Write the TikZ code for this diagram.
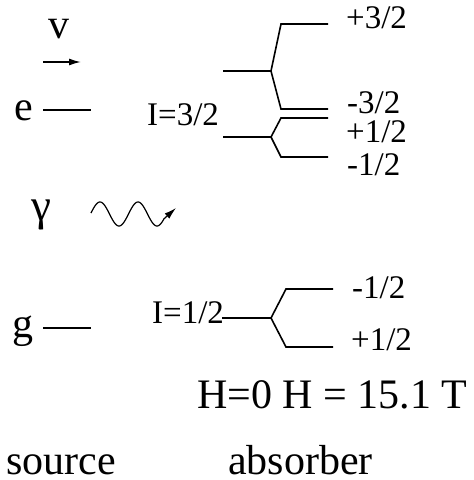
\documentclass[tikz,border=0pt]{standalone}
\usepackage{fontspec}
\setmainfont{Liberation Serif}
\usetikzlibrary{arrows.meta}
\tikzset{
  big/.style={font=\fontsize{42}{48}\selectfont, inner sep=0pt, anchor=base west, text depth=0pt},
  small/.style={font=\fontsize{33}{38}\selectfont, inner sep=0pt, anchor=base west, text height=22pt, text depth=0pt},
  lvl/.style={line width=1.6pt, line join=miter},
  tip/.style={-{Latex[length=12pt,width=7pt]}}
}
\begin{document}
\begin{tikzpicture}[x=1pt,y=-1pt]
\useasboundingbox (0,0) rectangle (474,480);
% source side
\node[big, anchor=base] (v) at (59,38) {v};
\coordinate (va) at (43,62);
\coordinate (vb) at (81,62);
\draw[lvl, tip, line width=1.5pt] (va) -- (vb);
\node[big] (e) at (14,120) {e};
\coordinate (ea) at (43,110);
\coordinate (eb) at (91,110);
\draw[lvl] (ea) -- (eb);
\node[big, font=\fontsize{45}{50}\selectfont] (gam) at (31,220) {γ};
\coordinate (wtip) at (176,208);
\draw[line width=1.2pt, tip] plot[domain=91:164, samples=90, smooth] (\x, {214-12*cos(9.4737*(\x-100))}) -- (wtip);
\node[big] (g) at (12,337) {g};
\coordinate (ga) at (43,328);
\coordinate (gb) at (91,328);
\draw[lvl] (ga) -- (gb);
% absorber I=3/2
\node[small] (i32) at (147,125) {I=3/2};
\coordinate (u0) at (223,71);
\coordinate (u1) at (271,71);
\coordinate (u2) at (281,24);
\coordinate (u3) at (328,24);
\coordinate (u4) at (281,109);
\coordinate (u5) at (328,109);
\draw[lvl] (u0) -- (u1) -- (u2) -- (u3);
\draw[lvl] (u1) -- (u4) -- (u5);
\coordinate (l0) at (223,137);
\coordinate (l1) at (271,137);
\coordinate (l2) at (281,118);
\coordinate (l3) at (328,118);
\coordinate (l4) at (281,157);
\coordinate (l5) at (328,157);
\draw[lvl] (l0) -- (l1) -- (l2) -- (l3);
\draw[lvl] (l1) -- (l4) -- (l5);
\node[small] (p32) at (346,28) {+3/2};
\node[small] (m32) at (347,113) {-3/2};
\node[small] (p12a) at (346,142) {+1/2};
\node[small] (m12a) at (347,175) {-1/2};
% absorber I=1/2
\node[small] (i12) at (152,323) {I=1/2};
\coordinate (h0) at (222,318);
\coordinate (h1) at (271,318);
\coordinate (h2) at (286,289);
\coordinate (h3) at (333,289);
\coordinate (h4) at (286,347);
\coordinate (h5) at (333,347);
\draw[lvl] (h0) -- (h1) -- (h2) -- (h3);
\draw[lvl] (h1) -- (h4) -- (h5);
\node[small] (m12b) at (352,298) {-1/2};
\node[small] (p12b) at (351,350) {+1/2};
% bottom labels
\node[big] (hf) at (197,408) {H=0 H = 15.1 T};
\node[big] (src) at (6,474) {source};
\node[big] (abs) at (228,474) {absorber};
\end{tikzpicture}
\end{document}
